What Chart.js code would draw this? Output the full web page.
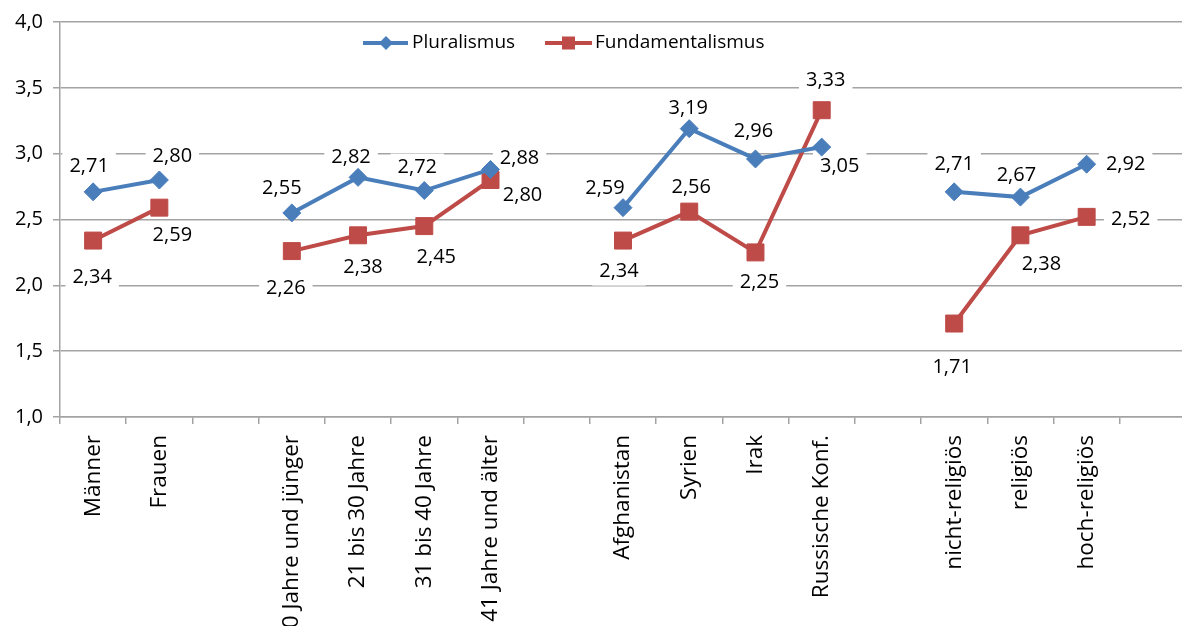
<!DOCTYPE html>
<html>
<head>
<meta charset="utf-8">
<script src="https://cdn.jsdelivr.net/npm/chart.js@4/dist/chart.umd.min.js"></script>
<style>
  html, body { margin: 0; padding: 0; overflow: hidden; background: #fff; }
  #wrap { width: 1199px; height: 626px; position: relative; }
</style>
</head>
<body>
<div id="wrap"><canvas id="lineChart"></canvas></div>
<script>
// DATA
const categories = [
    "Männer", "Frauen", "",
    "20 Jahre und jünger", "21 bis 30 Jahre", "31 bis 40 Jahre", "41 Jahre und älter", "",
    "Afghanistan", "Syrien", "Irak", "Russische Konf.", "",
    "nicht-religiös", "religiös", "hoch-religiös", ""
]
const pluralismus = [2.71, 2.80, null, 2.55, 2.82, 2.72, 2.88, null, 2.59, 3.19, 2.96, 3.05, null, 2.71, 2.67, 2.92, null]
const fundamentalismus = [2.34, 2.59, null, 2.26, 2.38, 2.45, 2.80, null, 2.34, 2.56, 2.25, 3.33, null, 1.71, 2.38, 2.52, null]
const yTicks = [1.0, 1.5, 2.0, 2.5, 3.0, 3.5, 4.0]

// label offsets (px from the point), kept apart from the data
const pluralOffsets = [[-4, -26], [13, -24], null, [-10, -25], [-7, -20], [-7, -23], [29, -11], null,
    [-18, -19], [-1, -20], [-2, -28], [18, 19], null, [0, -28], [-4, -22], [39, 0], null]
const fundOffsets = [[-1, 37], [13, 28], null, [-6, 37], [5, 32], [12, 31], [32, 15], null,
    [-4, 31], [2, -24], [4, 30], [4, -30], null, [-2, 44], [21, 29], [44, 2], null]

const BLUE = "#4A7EBB"
const RED = "#BE4B48"
const GRID = "#a3a3a3"
const FONT = "'Open Sans', sans-serif"

function fmt(v, d) {
    return v.toFixed(d).replace(".", ",")
}

//VALUE LABELS
const valueLabels = {
    id: "valueLabels",
    beforeDatasetsDraw(chart) {
        const ctx = chart.ctx
        ctx.save()
        ctx.font = "20px " + FONT
        ctx.fillStyle = "#fff"
        chart.data.datasets.forEach((ds, d) => {
            const meta = chart.getDatasetMeta(d)
            ds.data.forEach((v, i) => {
                if (v === null) return
                const off = ds.labelOffsets[i]
                const p = meta.data[i]
                const w = ctx.measureText(fmt(v, 2)).width + 14
                ctx.fillRect(p.x + off[0] - w / 2, p.y + off[1] - 14, w, 28)
            })
        })
        ctx.restore()
    },
    afterDatasetsDraw(chart) {
        const ctx = chart.ctx
        ctx.save()
        ctx.font = "20px " + FONT
        ctx.fillStyle = "#000"
        ctx.textAlign = "center"
        ctx.textBaseline = "middle"
        chart.data.datasets.forEach((ds, d) => {
            const meta = chart.getDatasetMeta(d)
            ds.data.forEach((v, i) => {
                if (v === null) return
                const off = ds.labelOffsets[i]
                const p = meta.data[i]
                ctx.fillText(fmt(v, 2), p.x + off[0], p.y + off[1])
            })
        })
        ctx.restore()
    }
}

//LEGEND
const topLegend = {
    id: "topLegend",
    afterDraw(chart) {
        const ctx = chart.ctx
        const y = 43
        ctx.save()
        ctx.font = "19px " + FONT
        ctx.textBaseline = "middle"
        // Pluralismus
        ctx.strokeStyle = BLUE
        ctx.lineWidth = 4
        ctx.beginPath(); ctx.moveTo(363, y); ctx.lineTo(408, y); ctx.stroke()
        ctx.fillStyle = BLUE
        ctx.beginPath()
        ctx.moveTo(386, y - 7); ctx.lineTo(393, y); ctx.lineTo(386, y + 7); ctx.lineTo(379, y)
        ctx.closePath(); ctx.fill()
        ctx.fillStyle = "#000"
        ctx.fillText(chart.data.datasets[0].label, 412, y)
        // Fundamentalismus
        ctx.strokeStyle = RED
        ctx.beginPath(); ctx.moveTo(545, y); ctx.lineTo(592, y); ctx.stroke()
        ctx.fillStyle = RED
        ctx.fillRect(562, y - 6.5, 13, 13)
        ctx.fillStyle = "#000"
        ctx.fillText(chart.data.datasets[1].label, 595, y)
        ctx.restore()
    }
}

//CHART
const chart = document.getElementById("lineChart")
let lineChart = new Chart(chart, {
    type: "line",
    data: {
        labels: categories,
        datasets: [{
                label: "Pluralismus",
                data: pluralismus,
                labelOffsets: pluralOffsets,
                borderColor: BLUE,
                backgroundColor: BLUE,
                borderWidth: 4,
                pointStyle: "rectRot",
                pointRadius: 9,
                pointHoverRadius: 9,
                pointBorderWidth: 1,
                spanGaps: false
            },
            {
                label: "Fundamentalismus",
                data: fundamentalismus,
                labelOffsets: fundOffsets,
                borderColor: RED,
                backgroundColor: RED,
                borderWidth: 4,
                pointStyle: "rect",
                pointRadius: 12,
                pointHoverRadius: 12,
                pointBorderWidth: 1,
                spanGaps: false
            }
        ]
    },
    options: {
        responsive: true,
        maintainAspectRatio: false,
        animation: false,
        layout: { padding: { top: 20, left: 0, right: 0, bottom: 0 } },
        plugins: {
            legend: { display: false },
            tooltip: { enabled: false }
        },
        scales: {
            x: {
                offset: true,
                grid: {
                    offset: true,
                    drawOnChartArea: false,
                    drawTicks: true,
                    tickLength: 7,
                    color: GRID,
                    lineWidth: 1.5
                },
                border: { display: true, color: GRID, width: 1.5 },
                ticks: {
                    autoSkip: false,
                    minRotation: 90,
                    maxRotation: 90,
                    padding: 11,
                    color: "#000",
                    font: { family: FONT, size: 22.5 }
                },
                afterFit(s) { s.height = 209 }
            },
            y: {
                min: 1,
                max: 4,
                afterBuildTicks(s) { s.ticks = yTicks.map(v => ({ value: v })) },
                grid: {
                    color: GRID,
                    lineWidth: 1.5,
                    drawTicks: true,
                    tickLength: 7
                },
                border: { display: true, color: GRID, width: 1.5 },
                ticks: {
                    padding: 10,
                    color: "#000",
                    font: { family: FONT, size: 20 },
                    callback: v => fmt(v, 1)
                },
                afterFit(s) { s.width = 60 }
            }
        }
    },
    plugins: [valueLabels, topLegend]
});
</script>
</body>
</html>
